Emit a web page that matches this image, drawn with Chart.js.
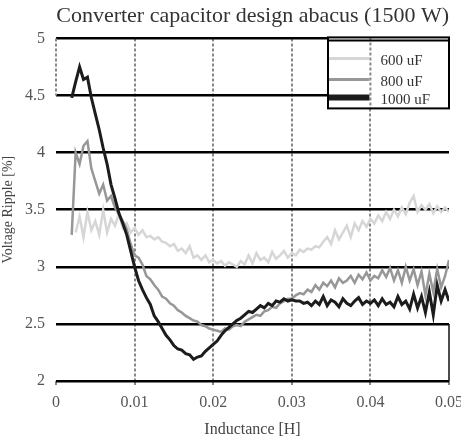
<!DOCTYPE html>
<html>
<head>
<meta charset="utf-8">
<script src="https://cdn.jsdelivr.net/npm/chart.js@4.4.0/dist/chart.umd.min.js"></script>
<style>
  html, body { margin: 0; padding: 0; background: #fff; }
  #wrap { width: 461px; height: 440px; }
</style>
</head>
<body>
<div id="wrap"><canvas id="chart" width="461" height="440"></canvas></div>
<script>
// Inductance values [H]
const inductance = [
  0.002, 0.0025, 0.003, 0.0035, 0.004, 0.0045, 0.005, 0.0055, 0.006, 0.0065,
  0.007, 0.0075, 0.008, 0.0085, 0.009, 0.0095, 0.010, 0.0105, 0.011, 0.0115,
  0.012, 0.0125, 0.013, 0.0135, 0.014, 0.0145, 0.015, 0.0155, 0.016, 0.0165,
  0.017, 0.0175, 0.018, 0.0185, 0.019, 0.0195, 0.020, 0.0205, 0.021, 0.0215,
  0.022, 0.0225, 0.023, 0.0235, 0.024, 0.0245, 0.025, 0.0255, 0.026, 0.0265,
  0.027, 0.0275, 0.028, 0.0285, 0.029, 0.0295, 0.030, 0.0305, 0.031, 0.0315,
  0.032, 0.0325, 0.033, 0.0335, 0.034, 0.0345, 0.035, 0.0355, 0.036, 0.0365,
  0.037, 0.0375, 0.038, 0.0385, 0.039, 0.0395, 0.040, 0.0405, 0.041, 0.0415,
  0.042, 0.0425, 0.043, 0.0435, 0.044, 0.0445, 0.045, 0.0455, 0.046, 0.0465,
  0.047, 0.0475, 0.048, 0.0485, 0.049, 0.0495, 0.050
];

// Voltage ripple [%] per capacitor
const ripple600 = [
  null, 3.30, 3.44, 3.26, 3.48, 3.32, 3.40, 3.28, 3.50, 3.30,
  3.42, 3.36, 3.46, 3.34, 3.38, 3.30, 3.34, 3.28, 3.32, 3.26,
  3.27, 3.24, 3.26, 3.22, 3.21, 3.18, 3.20, 3.14, 3.16, 3.12,
  3.18, 3.08, 3.10, 3.06, 3.10, 3.04, 3.06, 3.03, 3.05, 3.01,
  3.04, 3.02, 3.00, 3.05, 3.02, 3.10, 3.03, 3.12, 3.06, 3.08,
  3.04, 3.13, 3.07, 3.10, 3.14, 3.08, 3.12, 3.10, 3.15, 3.13,
  3.16, 3.15, 3.18, 3.17, 3.22, 3.26, 3.20, 3.32, 3.24, 3.30,
  3.36, 3.26, 3.38, 3.32, 3.40, 3.35, 3.42, 3.38, 3.45, 3.40,
  3.48, 3.42, 3.50, 3.44, 3.52, 3.46, 3.56, 3.62, 3.48, 3.54,
  3.50, 3.55, 3.47, 3.53, 3.48, 3.52, 3.48
];

const ripple800 = [
  3.28, 4.00, 3.90, 4.06, 4.10, 3.86, 3.75, 3.64, 3.72, 3.58,
  3.62, 3.52, 3.46, 3.40, 3.33, 3.20, 3.10, 3.08, 3.02, 2.92,
  2.89, 2.84, 2.80, 2.74, 2.72, 2.68, 2.66, 2.62, 2.60, 2.57,
  2.55, 2.53, 2.52, 2.49, 2.48, 2.46, 2.45, 2.44, 2.43, 2.46,
  2.45, 2.48, 2.49, 2.48, 2.52, 2.54, 2.56, 2.58, 2.57, 2.61,
  2.62, 2.65, 2.64, 2.68, 2.70, 2.72, 2.72, 2.75, 2.77, 2.76,
  2.80, 2.78, 2.84, 2.80, 2.86, 2.83, 2.88, 2.82, 2.90, 2.86,
  2.88, 2.92, 2.86, 2.93, 2.89, 2.95, 2.88, 2.92, 2.90, 2.97,
  2.91, 2.99, 2.88, 2.97, 2.86, 3.00, 2.88, 2.98, 2.84, 2.96,
  2.75, 2.94, 2.78, 2.98, 2.82, 2.92, 3.06
];

const ripple1000 = [
  4.48, 4.62, 4.75, 4.64, 4.66, 4.48, 4.34, 4.20, 4.04, 3.90,
  3.72, 3.60, 3.47, 3.38, 3.28, 3.14, 3.00, 2.88, 2.80, 2.73,
  2.67, 2.57, 2.52, 2.46, 2.40, 2.36, 2.31, 2.28, 2.27, 2.24,
  2.23, 2.19, 2.21, 2.22, 2.26, 2.29, 2.32, 2.35, 2.40, 2.44,
  2.47, 2.50, 2.53, 2.55, 2.58, 2.61, 2.60, 2.63, 2.66, 2.64,
  2.68, 2.66, 2.70, 2.69, 2.72, 2.70, 2.71, 2.70, 2.70, 2.68,
  2.69, 2.66, 2.70, 2.67, 2.74, 2.66, 2.71, 2.69, 2.65, 2.72,
  2.68, 2.66, 2.70, 2.73, 2.67, 2.70, 2.68, 2.71, 2.66, 2.72,
  2.67, 2.69, 2.65, 2.74, 2.67, 2.70, 2.63, 2.76, 2.64, 2.74,
  2.60, 2.78, 2.58, 2.84, 2.70, 2.80, 2.70
];

const seriesLabels = ['600 uF', '800 uF', '1000 uF'];
const yTicks = [2, 2.5, 3, 3.5, 4, 4.5, 5];
const xTicks = [0, 0.01, 0.02, 0.03, 0.04, 0.05];

const FONT = "'Liberation Serif', 'DejaVu Serif', serif";
const toPoints = vals => inductance.map((x, i) => ({ x, y: vals[i] }));

// odd bits of frame from the original plot + the inner legend box
const framePlugin = {
  id: 'frame',
  afterDraw(chart) {
    const { ctx, chartArea: a, scales } = chart;
    const xs = scales.x, ys = scales.y;
    ctx.save();
    // left dashed segment 4.5 -> 5
    ctx.strokeStyle = '#888';
    ctx.lineWidth = 2;
    ctx.setLineDash([3, 2]);
    ctx.beginPath();
    ctx.moveTo(a.left, ys.getPixelForValue(5));
    ctx.lineTo(a.left, ys.getPixelForValue(4.5));
    ctx.stroke();
    // right solid segment 2 -> 2.5
    ctx.setLineDash([]);
    ctx.strokeStyle = '#111';
    ctx.lineWidth = 1.5;
    ctx.beginPath();
    ctx.moveTo(a.right, ys.getPixelForValue(2.5));
    ctx.lineTo(a.right, ys.getPixelForValue(2));
    ctx.stroke();

    // legend box
    const bx = a.right - 121, by = a.top - 1, bw = 121, bh = 71;
    ctx.fillStyle = '#fff';
    ctx.fillRect(bx, by, bw, bh);
    const gx = xs.getPixelForValue(0.04);
    ctx.strokeStyle = '#888';
    ctx.lineWidth = 2;
    ctx.setLineDash([3, 2]);
    ctx.beginPath();
    ctx.moveTo(gx, by);
    ctx.lineTo(gx, by + bh);
    ctx.stroke();
    ctx.setLineDash([]);
    ctx.strokeStyle = '#000';
    ctx.lineWidth = 2;
    ctx.strokeRect(bx, by, bw, bh);
    ctx.beginPath();
    ctx.moveTo(bx, by + 3);
    ctx.lineTo(bx + bw, by + 3);
    ctx.stroke();

    const rows = [by + 21, by + 42, by + 60];
    chart.data.datasets.forEach((ds, i) => {
      ctx.strokeStyle = ds.borderColor;
      ctx.lineWidth = i === 2 ? 6 : 3;
      ctx.beginPath();
      ctx.moveTo(bx + 1, rows[i]);
      ctx.lineTo(gx - 1, rows[i]);
      ctx.stroke();
      ctx.fillStyle = '#333';
      ctx.font = '15px ' + FONT;
      ctx.textBaseline = 'middle';
      ctx.fillText(ds.label, gx + 10, rows[i] + 3);
    });
    ctx.restore();
  }
};

new Chart(document.getElementById('chart'), {
  type: 'line',
  data: {
    datasets: [
      { label: seriesLabels[0], data: toPoints(ripple600), borderColor: '#d6d6d6', borderWidth: 2.5, order: 2 },
      { label: seriesLabels[1], data: toPoints(ripple800), borderColor: '#979797', borderWidth: 2.5, order: 1 },
      { label: seriesLabels[2], data: toPoints(ripple1000), borderColor: '#1c1c1c', borderWidth: 3, order: 0 }
    ]
  },
  options: {
    responsive: false,
    animation: false,
    elements: { point: { radius: 0 }, line: { tension: 0 } },
    layout: { padding: { left: 0, right: 12, top: 0, bottom: 0 } },
    plugins: {
      legend: { display: false },
      tooltip: { enabled: false },
      title: {
        display: true,
        text: 'Converter capacitor design abacus (1500 W)',
        align: 'end',
        color: '#333',
        font: { family: FONT, size: 22, weight: 'normal' },
        padding: { top: 3, bottom: 9 }
      }
    },
    scales: {
      x: {
        type: 'linear',
        min: 0,
        max: 0.05,
        afterBuildTicks: s => { s.ticks = xTicks.map(v => ({ value: v })); },
        afterFit: s => { s.height = 59; s.paddingLeft = 0; s.paddingRight = 0; },
        border: { display: false, dash: [3, 2] },
        grid: {
          color: c => (c.tick && c.tick.value > 0 && c.tick.value < 0.05) ? '#888' : 'rgba(0,0,0,0)',
          lineWidth: 2,
          tickLength: 4,
          tickColor: '#888'
        },
        ticks: {
          color: '#555',
          padding: 8,
          font: { family: FONT, size: 16 },
          maxRotation: 0,
          callback: v => String(v)
        },
        title: {
          display: true,
          text: 'Inductance [H]',
          color: '#444',
          font: { family: FONT, size: 16 },
          padding: { top: 2, bottom: 1 }
        }
      },
      y: {
        min: 2,
        max: 5,
        afterBuildTicks: s => { s.ticks = yTicks.map(v => ({ value: v })); },
        afterFit: s => { s.width = 56; },
        border: { display: false },
        grid: {
          color: '#000',
          lineWidth: 2.5,
          drawTicks: false
        },
        ticks: {
          color: '#555',
          padding: 11,
          font: { family: FONT, size: 16 },
          callback: v => String(v)
        },
        title: {
          display: true,
          text: 'Voltage Ripple [%]',
          color: '#444',
          font: { family: FONT, size: 14 },
          padding: { top: 0, bottom: 2 }
        }
      }
    }
  },
  plugins: [framePlugin]
});
</script>
</body>
</html>
